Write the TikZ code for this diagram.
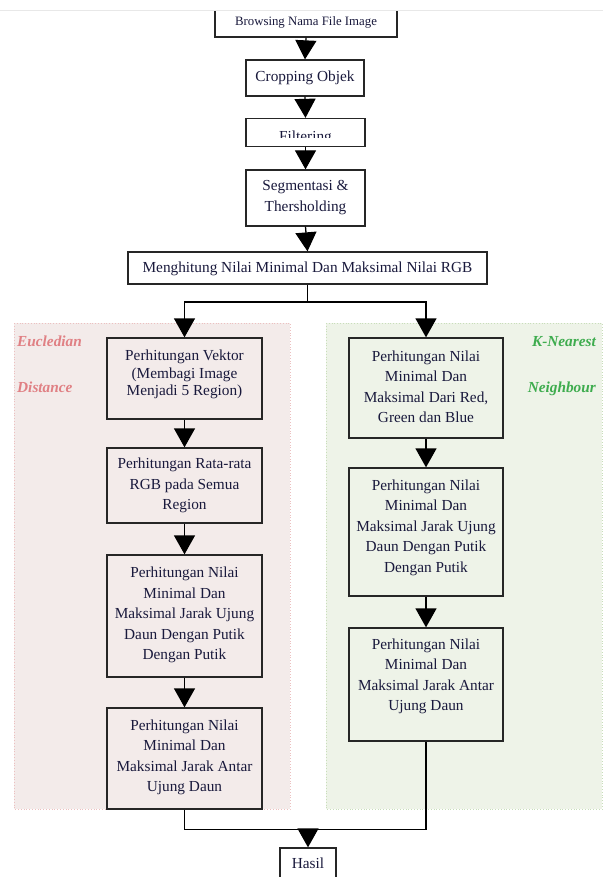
\documentclass[tikz,border=0pt]{standalone}
\usepackage{fontspec}
\setmainfont{Liberation Serif}
\usetikzlibrary{arrows.meta}
\definecolor{txtc}{RGB}{25,25,60}
\definecolor{pinkfill}{RGB}{243,235,234}
\definecolor{pinkline}{RGB}{236,192,192}
\definecolor{greenfill}{RGB}{238,243,232}
\definecolor{greenline}{RGB}{200,222,186}
\definecolor{euccol}{RGB}{224,128,132}
\definecolor{knncol}{RGB}{62,172,78}
\definecolor{topline}{RGB}{232,232,232}
\tikzset{
  stepbox/.style={draw=black!85, line width=1.3pt, inner sep=0pt},
  txt/.style={text=txtc, align=center, inner sep=0pt, font=\fontsize{15.3}{20.5}\selectfont},
  conn/.style={line width=1.3pt, draw=black},
  arr/.style={conn, -{Triangle[width=21pt,length=19pt]}},
  panellabel/.style={inner sep=0pt, font=\fontsize{15.3}{18}\selectfont\bfseries\itshape},
}
\begin{document}
\begin{tikzpicture}[x=1pt,y=-1pt]
\clip (0,0) rectangle (603,877);
\fill[white] (0,0) rectangle (603,877);
% panels
\draw[pinkline, fill=pinkfill, line width=0.8pt, dotted] (14,323) rectangle (290,809);
\draw[greenline, fill=greenfill, line width=0.8pt, dotted] (326,323) rectangle (602,809);
\node[panellabel, text=euccol, anchor=base west] (euc1) at (17,346) {Eucledian};
\node[panellabel, text=euccol, anchor=base west] (euc2) at (17,392) {Distance};
\node[panellabel, text=knncol, anchor=base east] (knn1) at (596,346) {K-Nearest};
\node[panellabel, text=knncol, anchor=base east] (knn2) at (596,392) {Neighbour};
% top line
\draw[topline, line width=1.2pt] (0,10.5) -- (603,10.5);
% top box (cut off above)
\begin{scope}
\clip (0,11.2) rectangle (603,877);
\node[stepbox, minimum width=182pt, minimum height=47pt] (top) at (306,13.5) {};
\end{scope}
\node[txt, font=\fontsize{12.8}{15}\selectfont] (ttop) at (306,22.5) {Browsing Nama File Image};
% boxes
\node[stepbox, minimum width=118pt, minimum height=36pt] (crop) at (305,78) {};
\node[txt] (tcrop) at (305,77.5) {Cropping Objek};
\node[stepbox, minimum width=119pt, minimum height=28pt] (filt) at (305.5,132.5) {};
\begin{scope}
\clip (247,119) rectangle (364,137.6);
\node[txt, anchor=base] (tfilt) at (305.5,141.5) {Filtering};
\end{scope}
\node[stepbox, minimum width=119pt, minimum height=56pt] (seg) at (305.5,198) {};
\node[txt] (tseg) at (305.5,197.5) {Segmentasi \&\\Thersholding};
\node[stepbox, minimum width=359pt, minimum height=32pt] (mh) at (307.5,268) {};
\node[txt] (tmh) at (307.5,268.5) {Menghitung Nilai Minimal Dan Maksimal Nilai RGB};
% left column
\node[stepbox, minimum width=155pt, minimum height=81pt] (L1) at (184.5,378.5) {};
\node[txt, font=\fontsize{15.3}{17.2}\selectfont] (tL1) at (184.5,374.5) {Perhitungan Vektor\\(Membagi Image\\Menjadi 5 Region)};
\node[stepbox, minimum width=155pt, minimum height=75pt] (L2) at (184.5,485.5) {};
\node[txt] (tL2) at (184.5,485.5) {Perhitungan Rata-rata\\RGB pada Semua\\Region};
\node[stepbox, minimum width=155pt, minimum height=122pt] (L3) at (184.5,616) {};
\node[txt] (tL3) at (184.5,615) {Perhitungan Nilai\\Minimal Dan\\Maksimal Jarak Ujung\\Daun Dengan Putik\\Dengan Putik};
\node[stepbox, minimum width=155pt, minimum height=101pt] (L4) at (184.5,758.5) {};
\node[txt] (tL4) at (184.5,757.5) {Perhitungan Nilai\\Minimal Dan\\Maksimal Jarak Antar\\Ujung Daun};
% right column
\node[stepbox, minimum width=154pt, minimum height=100pt] (R1) at (426,388) {};
\node[txt] (tR1) at (426,387) {Perhitungan Nilai\\Minimal Dan\\Maksimal Dari Red,\\Green dan Blue};
\node[stepbox, minimum width=154pt, minimum height=128pt] (R2) at (426,532) {};
\node[txt] (tR2) at (426,527.5) {Perhitungan Nilai\\Minimal Dan\\Maksimal Jarak Ujung\\Daun Dengan Putik\\Dengan Putik};
\node[stepbox, minimum width=154pt, minimum height=113pt] (R3) at (426,684.5) {};
\node[txt] (tR3) at (426,676.5) {Perhitungan Nilai\\Minimal Dan\\Maksimal Jarak Antar\\Ujung Daun};
% result
\node[stepbox, minimum width=56pt, minimum height=52pt] (hasil) at (308,874) {};
\node[txt] (thasil) at (308,863) {Hasil};
% connectors
\draw[arr] (top.south) -- (crop.north);
\draw[arr] (crop.south) -- (filt.north);
\draw[arr] (filt.south) -- (seg.north);
\draw[arr] (seg.south) -- (mh.north);
\coordinate (split) at (307.5,302);
\draw[conn] (mh.south) -- (split);
\draw[arr] (split) -| (L1.north);
\draw[arr] (split) -| (R1.north);
\draw[arr] (L1.south) -- (L2.north);
\draw[arr] (L2.south) -- (L3.north);
\draw[arr] (L3.south) -- (L4.north);
\draw[arr] (R1.south) -- (R2.north);
\draw[arr] (R2.south) -- (R3.north);
\coordinate (join) at (308,829.5);
\draw[conn] (L4.south) |- (join) -| (R3.south);
\draw[arr] (join) -- (hasil.north);
\end{tikzpicture}
\end{document}
